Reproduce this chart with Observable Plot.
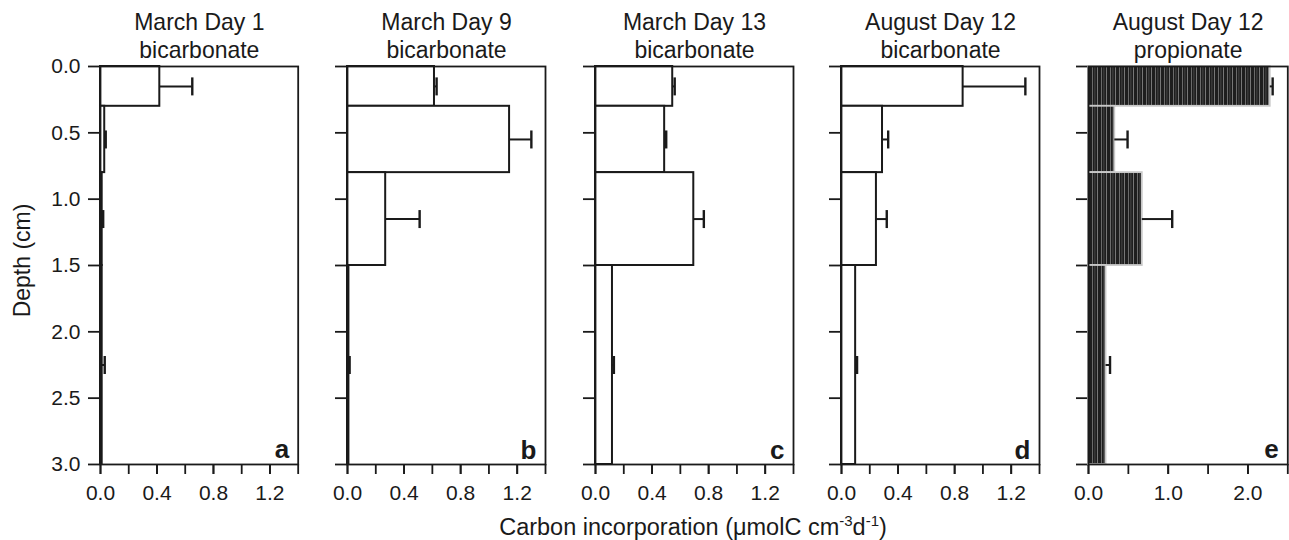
<!DOCTYPE html>
<html>
<head>
<meta charset="utf-8">
<script src="https://cdn.jsdelivr.net/npm/d3@7"></script>
<script src="https://cdn.jsdelivr.net/npm/@observablehq/plot@0.6"></script>
<style>
  body { margin: 0; background: #fff; font-family: "Liberation Sans", Arial, sans-serif; color: #1a1a1a; }
  #wrap { position: relative; width: 1289px; height: 540px; background: #fff; overflow: hidden; }
  .panel { position: absolute; top: 0; }
  #xlabel { position: absolute; top: 513px; left: 393px; width: 600px; text-align: center; font-size: 23.5px; line-height: 28px; color: #1a1a1a; }
  #xlabel sup { font-size: 15px; line-height: 0; vertical-align: 9px; }
</style>
</head>
<body>
<div id="wrap">
  <div id="xlabel">Carbon incorporation (&mu;molC cm<sup>-3</sup>d<sup>-1</sup>)</div>
</div>
<script>
// ---- data ----
const depthTop    = [0.0, 0.3, 0.8, 1.5];
const depthBottom = [0.3, 0.8, 1.5, 3.0];

const titleLine1 = ["March Day 1", "March Day 9", "March Day 13", "August Day 12", "August Day 12"];
const titleLine2 = ["bicarbonate", "bicarbonate", "bicarbonate", "bicarbonate", "propionate"];
const panelLetters = ["a", "b", "c", "d", "e"];
const yAxisLabel = "Depth (cm)";

// Carbon incorporation values (umolC cm-3 d-1) per depth interval
const valuesA = [0.42, 0.03, 0.012, 0.012];
const errorsA = [0.23, 0.007, 0.007, 0.018];
const valuesB = [0.615, 1.146, 0.27, 0.01];
const errorsB = [0.015, 0.154, 0.24, 0.005];
const valuesC = [0.546, 0.489, 0.695, 0.12];
const errorsC = [0.014, 0.011, 0.071, 0.01];
const valuesD = [0.86, 0.29, 0.247, 0.10];
const errorsD = [0.44, 0.04, 0.073, 0.01];
const valuesE = [2.28, 0.33, 0.675, 0.22];
const errorsE = [0.03, 0.16, 0.375, 0.05];

const panelValues = [valuesA, valuesB, valuesC, valuesD, valuesE];
const panelErrors = [errorsA, errorsB, errorsC, errorsD, errorsE];

const xMaxes = [1.4, 1.4, 1.4, 1.4, 2.5];
const xMinorTicksBicarb = [0, 0.2, 0.4, 0.6, 0.8, 1.0, 1.2, 1.4];
const xLabelTicksBicarb = [0, 0.4, 0.8, 1.2];
const xMinorTicksProp = [0, 0.5, 1.0, 1.5, 2.0, 2.5];
const xLabelTicksProp = [0, 1.0, 2.0];
const yTicks = [0, 0.5, 1.0, 1.5, 2.0, 2.5, 3.0];

// ---- layout ----
const frameLefts = [100, 346.7, 595, 841, 1087.7];
const frameWidths = [197.7, 198, 198, 198, 199.3];
const ink = "#1a1a1a";
const fmt = d3.format(".1f");

const capSymbol = {
  draw(context, size) {
    const h = Math.sqrt(size / Math.PI);
    context.moveTo(0, -h);
    context.lineTo(0, h);
  }
};

const wrap = document.getElementById("wrap");

for (let i = 0; i < 5; i++) {
  const vals = panelValues[i], errs = panelErrors[i];
  const rows = vals.map((v, k) => ({
    top: depthTop[k], bottom: depthBottom[k], mid: (depthTop[k] + depthBottom[k]) / 2,
    value: v, end: v + errs[k]
  }));
  const isProp = i === 4;
  const ml = i === 0 ? 100 : 24;
  const mr = 2;
  const minor = isProp ? xMinorTicksProp : xMinorTicksBicarb;
  const major = isProp ? xLabelTicksProp : xLabelTicksBicarb;

  const marks = [
    Plot.axisY({
      ticks: yTicks, tickSize: 12, tickPadding: 8, strokeWidth: 1.8, fontSize: 21,
      tickFormat: i === 0 ? fmt : () => "",
      label: null
    }),
    Plot.axisX({ ticks: minor, tickSize: 10, strokeWidth: 1.8, tickFormat: () => "", label: null }),
    Plot.axisX({ ticks: major, tickSize: 10, tickPadding: 11, strokeWidth: 1.8, fontSize: 21, tickFormat: fmt, label: null }),
    Plot.rectX(rows, {
      x1: 0, x2: "value", y1: "top", y2: "bottom",
      fill: isProp ? "url(#stripes)" : "white",
      stroke: isProp ? "#c8c8c8" : ink,
      strokeWidth: isProp ? 1.8 : 2
    }),
    Plot.ruleY(rows, { y: "mid", x1: "value", x2: "end", stroke: ink, strokeWidth: 2 }),
    Plot.dot(rows, { x: "end", y: "mid", symbol: capSymbol, r: 9, stroke: ink, strokeWidth: 2.4, fill: "none" }),
    Plot.frame({ stroke: ink, strokeWidth: 1.8 }),
    Plot.text([titleLine1[i]], { frameAnchor: "top", lineAnchor: "middle", dy: -44, fontSize: 23, fill: ink }),
    Plot.text([titleLine2[i]], { frameAnchor: "top", lineAnchor: "middle", dy: -16, fontSize: 23, fill: ink }),
    Plot.text([panelLetters[i]], { frameAnchor: "bottom-right", dx: -9, dy: -6, fontSize: 26, fontWeight: "bold", fill: ink })
  ];
  if (i === 0) {
    marks.push(Plot.text([yAxisLabel], {
      frameAnchor: "left", rotate: -90, textAnchor: "middle", lineAnchor: "middle",
      dx: -78, dy: -5, fontSize: 23, fill: ink
    }));
  }

  const plot = Plot.plot({
    width: ml + frameWidths[i] + mr,
    height: 540,
    marginTop: 66,
    marginBottom: 76,
    marginLeft: ml,
    marginRight: mr,
    style: { fontFamily: "Liberation Sans, Arial, sans-serif", fontSize: "21px", color: ink, background: "transparent", overflow: "visible" },
    x: { domain: [0, xMaxes[i]], axis: null },
    y: { domain: [0, 3], reverse: true, axis: null },
    marks
  });

  if (isProp) {
    d3.select(plot).insert("defs", ":first-child").html(
      `<pattern id="stripes" width="9" height="10" patternUnits="userSpaceOnUse">
         <rect width="9" height="10" fill="#1e1e1e"/>
         <rect x="1" width="1" height="10" fill="#6b6b6b"/>
         <rect x="3.5" width="0.8" height="10" fill="#505050"/>
         <rect x="6" width="1" height="10" fill="#777"/>
       </pattern>`
    );
  }

  const holder = document.createElement("div");
  holder.className = "panel";
  holder.style.left = (frameLefts[i] - ml) + "px";
  holder.appendChild(plot);
  wrap.appendChild(holder);
}
</script>
</body>
</html>
